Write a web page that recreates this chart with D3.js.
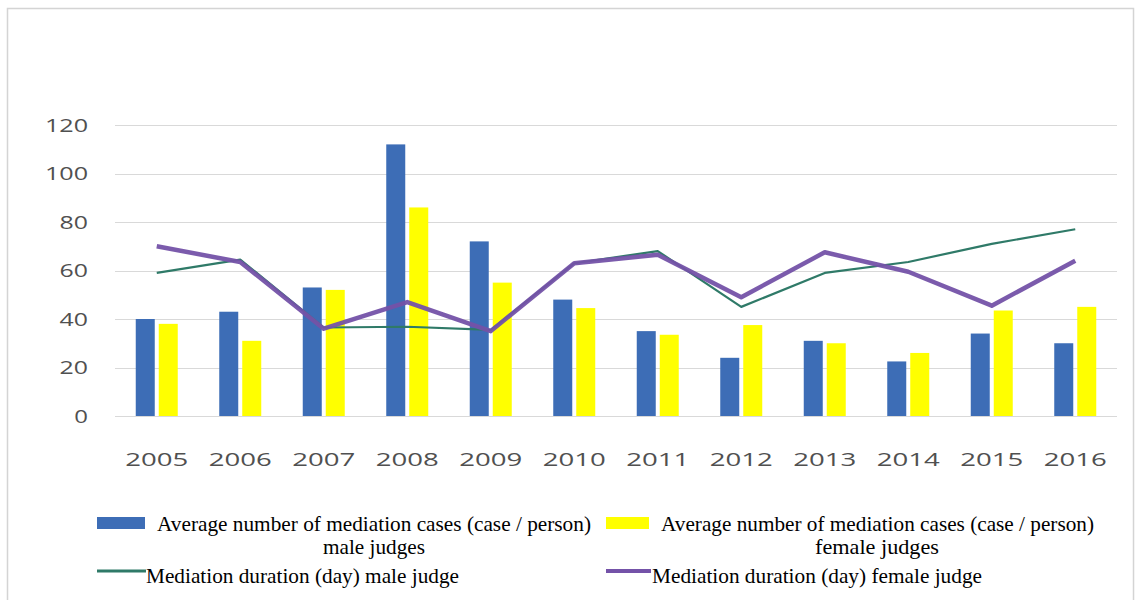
<!DOCTYPE html>
<html><head><meta charset="utf-8">
<script src="https://cdn.jsdelivr.net/npm/d3@7"></script>
<style>body{margin:0;background:#fff}svg{display:block}</style>
</head><body>
<svg id="chart" width="1142" height="600"></svg>
<script>
const years = ["2005","2006","2007","2008","2009","2010","2011","2012","2013","2014","2015","2016"];
const casesMale = [40, 43, 53, 112, 72, 48, 35, 24, 31, 22.5, 34, 30];
const casesFemale = [38, 31, 52, 86, 55, 44.5, 33.5, 37.5, 30, 26, 43.5, 45];
const durationMale = [59, 64.5, 36.5, 36.8, 35.5, 63, 68, 45, 59, 63.5, 71, 77];
const durationFemale = [70, 63.5, 36, 47, 35, 63, 66.5, 49, 67.5, 59.5, 45.5, 64];
const yTicks = [0, 20, 40, 60, 80, 100, 120];
const legendLabels = [
  ["Average number of mediation cases (case / person)", "male judges"],
  ["Average number of mediation cases (case / person)", "female judges"],
  ["Mediation duration (day) male judge"],
  ["Mediation duration (day) female judge"]
];

const colors = {male:"#3d6db6", female:"#ffff00", durM:"#2f7a68", durF:"#7452a8"};
const svg = d3.select("#chart");

// outer frame
svg.append("rect").attr("x",7.5).attr("y",8.5).attr("width",1126).attr("height",600)
  .attr("fill","none").attr("stroke","#d4d4d4").attr("stroke-width",1.5);

const x = d3.scaleBand().domain(years).range([115, 1117]);
const y = d3.scaleLinear().domain([0,120]).range([416,125]);
const x1 = d3.scaleBand().domain(["m","f"]).range([0,42]).paddingInner(0.174);

// gridlines
svg.append("g").selectAll("line").data(yTicks).join("line")
  .attr("x1",115).attr("x2",1117)
  .attr("y1",d=>Math.round(y(d))+0.5).attr("y2",d=>Math.round(y(d))+0.5)
  .attr("stroke","#d9d9d9").attr("stroke-width",1);

// y axis labels
const yAxis = d3.axisLeft(y).tickValues(yTicks).tickSize(0).tickPadding(0);
const gy = svg.append("g").attr("transform","translate(88,0)").call(yAxis);
gy.select(".domain").remove();
gy.selectAll("text").attr("font-family","'Open Sans', sans-serif").attr("font-size",18.5)
  .attr("fill","#505050").attr("dy","0.35em")
  .attr("textLength",d=>String(d).length*14.7-1).attr("lengthAdjust","spacingAndGlyphs");

// x axis labels
const xAxis = d3.axisBottom(x).tickSize(0).tickPadding(0);
const gx = svg.append("g").attr("transform","translate(0,466)").call(xAxis);
gx.select(".domain").remove();
gx.selectAll("text").attr("font-family","'Open Sans', sans-serif").attr("font-size",18.5)
  .attr("fill","#505050").attr("dy","0")
  .attr("textLength",63).attr("lengthAdjust","spacingAndGlyphs");

// bars
const barStart = d => x(d) + x.bandwidth()/2 - 21;
svg.append("g").selectAll("rect").data(years).join("rect")
  .attr("x",d=>barStart(d)+x1("m")).attr("width",x1.bandwidth())
  .attr("y",(d,i)=>y(casesMale[i])).attr("height",(d,i)=>y(0)-y(casesMale[i]))
  .attr("fill",colors.male);
svg.append("g").selectAll("rect").data(years).join("rect")
  .attr("x",d=>barStart(d)+x1("f")).attr("width",x1.bandwidth())
  .attr("y",(d,i)=>y(casesFemale[i])).attr("height",(d,i)=>y(0)-y(casesFemale[i]))
  .attr("fill",colors.female);

// lines
const line = d3.line().x((d,i)=>x(years[i])+x.bandwidth()/2).y(d=>y(d));
svg.append("path").datum(durationMale).attr("d",line).attr("fill","none")
  .attr("stroke",colors.durM).attr("stroke-width",2.2).attr("stroke-linejoin","round");
svg.append("path").datum(durationFemale).attr("d",line).attr("fill","none")
  .attr("stroke",colors.durF).attr("stroke-width",4.5).attr("stroke-linejoin","round")
  .attr("stroke-opacity",0.95);

// legend
const lg = svg.append("g").attr("font-family","'Liberation Serif', 'Times New Roman', serif")
  .attr("font-size",22).attr("fill","#000");
// swatches
lg.append("rect").attr("x",97).attr("y",517).attr("width",48).attr("height",12).attr("fill",colors.male);
lg.append("rect").attr("x",606).attr("y",517).attr("width",43).attr("height",12).attr("fill",colors.female);
lg.append("line").attr("x1",97).attr("x2",146).attr("y1",571).attr("y2",571)
  .attr("stroke",colors.durM).attr("stroke-width",3);
lg.append("line").attr("x1",606).attr("x2",651).attr("y1",571).attr("y2",571)
  .attr("stroke",colors.durF).attr("stroke-width",4);
// texts
const t = [
  {x:157, y:531, w:434, s:legendLabels[0][0], a:"start"},
  {x:374, y:554, w:102, s:legendLabels[0][1], a:"middle"},
  {x:661, y:531, w:433, s:legendLabels[1][0], a:"start"},
  {x:877, y:554, w:124, s:legendLabels[1][1], a:"middle"},
  {x:146, y:583, w:313, s:legendLabels[2][0], a:"start"},
  {x:652, y:583, w:330, s:legendLabels[3][0], a:"start"}
];
lg.selectAll("text").data(t).join("text")
  .attr("x",d=>d.x).attr("y",d=>d.y).attr("text-anchor",d=>d.a)
  .attr("textLength",d=>d.w).attr("lengthAdjust","spacingAndGlyphs")
  .text(d=>d.s);
</script>
</body></html>
